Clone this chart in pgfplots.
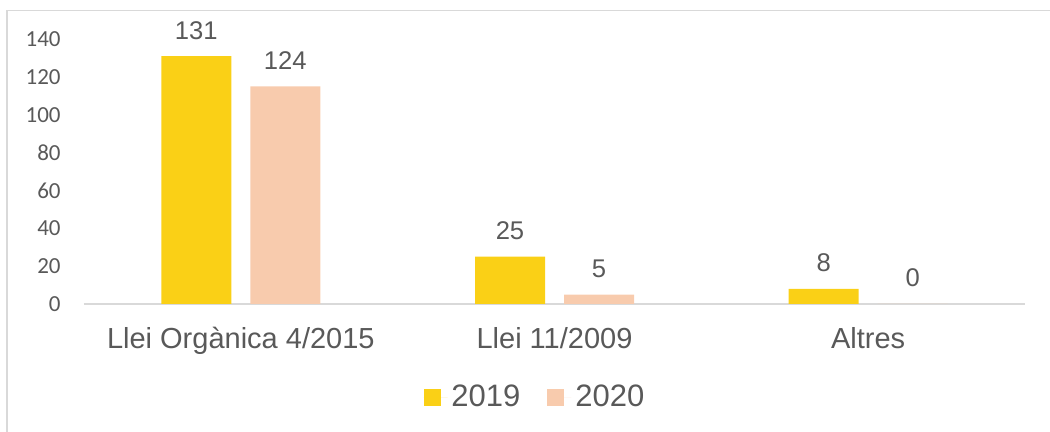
\documentclass[border=0pt]{standalone}
\usepackage{fontspec}
\setmainfont{Liberation Sans}
\newfontfamily\calibri{Carlito}
\usepackage{pgfplots}
\usepackage{pgfplotstable}
\pgfplotsset{compat=1.18}
\definecolor{gold}{RGB}{250,208,22}
\definecolor{peach}{RGB}{248,203,173}
\definecolor{txt}{RGB}{89,89,89}
\definecolor{ln}{RGB}{217,217,217}
\pgfplotstableread{
x y lab
0 131 131
1 25 25
2 8 8
}\dataA
\pgfplotstableread{
x y lab
0 115 124
1 5 5
2 0 0
}\dataB
\begin{document}
\begin{tikzpicture}[x=1pt,y=1pt]
\useasboundingbox (0,0) rectangle (525,216);
\draw[ln, line width=0.75pt] (3.5,0) -- (3.5,210.75) -- (525,210.75);
\begin{axis}[
  at={(42pt,64pt)}, anchor=south west,
  scale only axis, width=470.5pt, height=132.5pt,
  xmin=-0.5, xmax=2.5, ymin=0, ymax=140,
  clip=false,
  ybar, bar width=35pt,
  separate axis lines,
  axis x line*=bottom, axis y line*=left,
  x axis line style={ln, line width=0.75pt, -},
  y axis line style={draw=none},
  major tick length=0pt,
  ytick={0,20,...,140},
  xtick={0,1,2},
  xticklabels={Llei Orgànica 4/2015, Llei 11/2009, Altres},
  /pgf/number format/assume math mode=true,
  yticklabel style={font=\calibri\fontsize{11.5}{12}\selectfont, text=txt, inner sep=0pt, xshift=-11.5pt},
  xticklabel style={font=\fontsize{14.5}{16}\selectfont, text=txt, inner sep=0pt, anchor=base, yshift=-22.5pt},
  point meta=explicit symbolic,
  nodes near coords={\pgfplotspointmeta},
  nodes near coords style={font=\fontsize{12.8}{14}\selectfont, text=txt, anchor=base, inner sep=0pt, yshift=8.5pt},
  legend image code/.code={\path (0pt,0pt) -- (12pt,0pt);\fill[#1] (0pt,-4.25pt) rectangle (8.5pt,4.25pt);},
  legend style={at={(0.4803,-0.351)}, anchor=center, draw=none, fill=none,
    legend columns=2, font=\fontsize{15.5}{17}\selectfont, text=txt,
    /tikz/every even column/.append style={column sep=11.5pt},
    inner sep=0pt},
]
\addplot[bar shift=-22.25pt, fill=gold, draw=none]
  table[x=x, y=y, meta=lab] {\dataA};
\addlegendentry{2019}
\addplot[bar shift=22.25pt, fill=peach, draw=none]
  table[x=x, y=y, meta=lab] {\dataB};
\addlegendentry{2020}
\end{axis}
\end{tikzpicture}
\end{document}
